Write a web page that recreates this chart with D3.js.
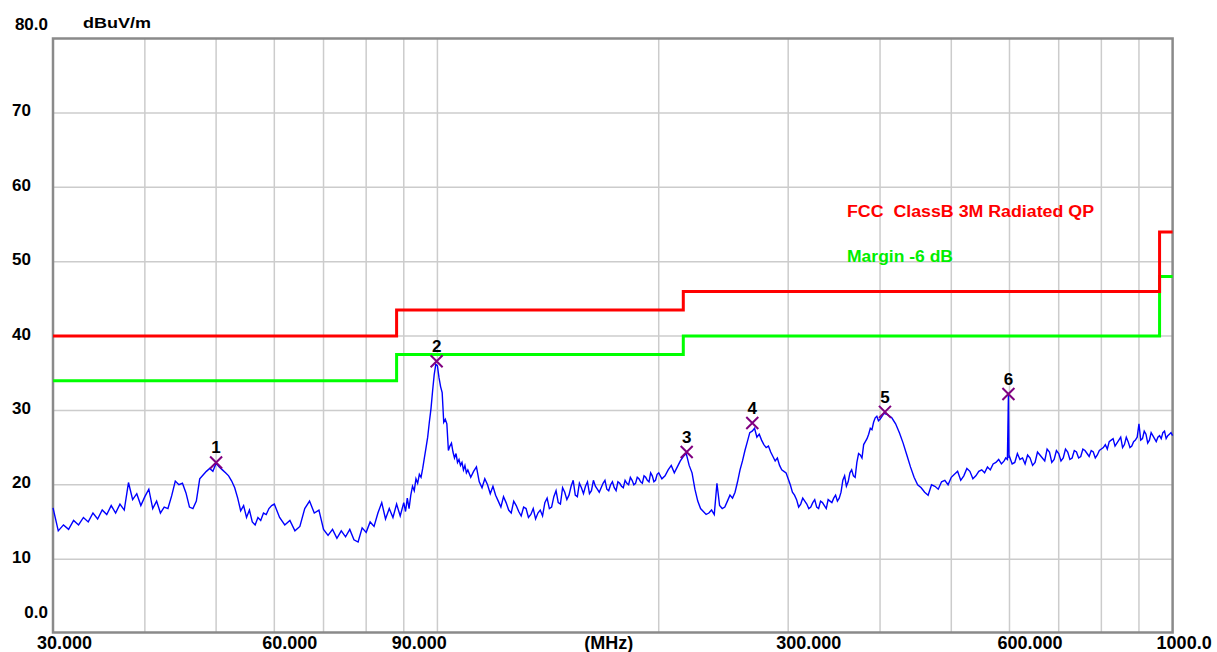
<!DOCTYPE html>
<html>
<head>
<meta charset="utf-8">
<script src="https://cdn.jsdelivr.net/npm/d3@7"></script>
<style>
  body { margin: 0; background: #fff; }
  svg { display: block; }
  text { font-family: "Liberation Sans", Arial, sans-serif; font-weight: bold; }
</style>
</head>
<body>
<svg id="chart"></svg>
<script>
// scan trace: [MHz, dBuV/m]
var trace = [
  [30,16.9],[30.5,13.8],[31,14.6],[31.5,14.0],[32,15.2],[32.5,14.6],[33,15.6],[33.5,15.0],[34,16.2],[34.5,15.4],
  [35,16.6],[35.5,16.0],[36,17.2],[36.5,16.2],[37,17.4],[37.5,16.6],[38,20.3],[38.5,18.0],[39,18.8],[39.5,17.2],
  [40,18.4],[40.5,19.4],[41,16.8],[41.5,17.8],[42,16.2],[42.5,17.0],[43,16.8],[43.5,18.5],[44,20.5],[44.5,20.0],
  [45,20.2],[45.5,18.9],[46,17.0],[46.5,16.8],[47,17.8],[47.5,20.8],[48,21.3],[48.5,21.8],[49,22.2],[49.5,21.8],
  [50,22.9],[50.5,22.4],[51,22.0],[51.5,21.6],[52,21.2],[52.5,20.5],[53,19.6],[53.5,18.2],[54,16.5],[54.5,17.2],
  [55,15.6],[55.5,16.6],[56,15.0],[56.5,14.6],[57,15.6],[57.5,15.2],[58,16.2],[58.5,16.0],[59,16.8],[59.5,17.2],
  [60,17.4],[61,15.6],[62,14.6],[63,15.2],[64,13.8],[65,14.4],[66,16.8],[67,17.8],[68,16.2],[69,16.6],
  [70,14.0],[71,13.2],[72,14.0],[73,12.8],[74,13.8],[75,13.0],[76,14.0],[77,12.6],[78,12.3],[79,14.2],
  [80,13.6],[81,15.0],[82,14.4],[83,16.2],[84,17.6],[85,15.4],[86,16.8],[87,15.6],[88,17.4],[89,15.8],
  [90,17.6],[90.5,16.4],[91,18.2],[91.5,16.8],[92,18.6],[92.5,19.8],[93,19.2],[93.5,20.8],[94,20.2],[94.5,21.4],
  [95,21.0],[95.5,22.2],[96,23.6],[96.5,25.0],[97,26.4],[97.5,28.4],[98,30.2],[98.5,32.6],[99,34.8],[99.5,36.2],
  [100,36.0],[100.5,34.4],[101,33.2],[101.5,32.4],[102,28.4],[102.5,28.8],[103,28.2],[103.5,24.6],[104,25.2],[104.5,25.6],
  [105,24.4],[105.5,23.6],[106,24.2],[106.5,23.0],[107,23.4],[107.5,22.6],[108,23.0],[108.5,22.0],[109,22.6],[109.5,21.6],
  [110,22.0],[111,21.0],[112,21.8],[113,22.4],[114,20.4],[115,19.6],[116,20.8],[117,20.0],[118,18.8],[119,19.8],
  [120,18.6],[121,17.8],[122,17.0],[123,18.4],[124,17.6],[125,16.6],[126,16.2],[127,17.8],[128,17.2],[129,16.4],
  [130,15.8],[131,17.0],[132,16.8],[133,15.6],[134,16.0],[135,16.8],[136,15.4],[137,16.2],[138,16.6],[139,15.8],
  [140,17.6],[141,18.2],[142,16.8],[143,17.0],[144,18.4],[145,19.2],[146,17.6],[147,17.4],[148,19.6],[149,19.0],
  [150,18.0],[151,18.6],[152,19.8],[153,20.6],[154,18.6],[155,18.4],[156,20.2],[157,19.6],[158,18.8],[159,19.8],
  [160,20.4],[161,18.8],[162,19.2],[163,20.6],[164,19.8],[165,19.4],[166,19.0],[167,19.6],[168,20.2],[169,20.6],
  [170,19.4],[171,19.2],[172,20.0],[173,20.4],[174,19.6],[175,19.2],[176,20.4],[177,20.2],[178,19.8],[179,19.6],
  [180,20.6],[181,20.2],[182,20.0],[183,21.0],[184,20.6],[185,20.0],[186,20.2],[187,21.0],[188,20.8],[189,20.4],
  [190,20.2],[191,21.2],[192,21.0],[193,20.6],[194,20.4],[195,21.6],[196,21.2],[197,20.4],[198,20.6],[199,21.4],
  [200,21.6],[202,20.8],[204,21.2],[206,22.0],[208,22.6],[210,21.6],[212,22.4],[214,23.2],[216,23.8],[218,24.2],
  [220,22.6],[222,21.6],[224,19.4],[226,17.8],[228,16.8],[230,16.4],[232,16.0],[234,16.2],[236,16.6],[238,16.0],
  [240,20.2],[242,17.2],[244,16.8],[246,17.0],[248,17.8],[250,18.6],[252,18.2],[254,19.0],[256,20.4],[258,22.0],
  [260,23.2],[262,24.6],[264,25.8],[266,27.0],[268,27.2],[270,27.6],[272,26.4],[274,26.8],[276,26.0],[278,25.4],
  [280,25.0],[282,25.2],[284,24.4],[286,23.8],[288,23.2],[290,23.6],[292,22.6],[294,22.0],[296,21.8],[298,21.6],
  [300,20.8],[302,20.0],[304,19.0],[306,18.6],[308,18.0],[310,17.0],[312,17.4],[314,18.2],[316,17.8],[318,17.4],
  [320,16.8],[322,17.0],[324,17.6],[326,18.0],[328,17.0],[330,16.8],[332,17.8],[334,17.6],[336,17.2],[338,16.8],
  [340,18.0],[342,17.8],[344,17.6],[346,18.2],[348,18.6],[350,17.8],[352,18.2],[354,19.0],[356,20.6],[358,21.2],
  [360,19.8],[362,20.4],[364,21.6],[366,22.0],[368,21.2],[370,21.0],[372,23.0],[374,24.2],[376,24.0],[378,23.6],
  [380,25.4],[382,25.8],[384,26.2],[386,26.8],[388,27.6],[390,27.4],[392,28.4],[394,29.0],[396,29.2],[398,28.6],
  [400,28.8],[405,29.6],[410,29.4],[415,29.0],[420,28.2],[425,27.0],[430,25.6],[435,24.0],[440,22.4],[445,21.0],
  [450,20.0],[455,19.6],[460,19.0],[465,18.6],[470,20.0],[475,19.8],[480,19.4],[485,20.4],[490,20.6],[495,20.0],
  [500,21.0],[505,21.4],[510,21.8],[515,20.6],[520,21.2],[525,22.2],[530,21.8],[535,20.8],[540,21.2],[545,21.8],
  [550,22.0],[555,21.6],[560,22.4],[565,22.0],[570,22.8],[575,23.0],[580,23.4],[585,22.8],[590,23.2],[593,23.6],
  [596,23.4],[597,27.6],[598,32.2],[599,23.6],[600,23.8],[605,22.8],[610,23.0],[615,24.2],[620,23.4],[625,23.6],
  [630,22.8],[635,24.0],[640,23.6],[645,22.6],[650,23.0],[655,24.4],[660,24.0],[665,23.6],[670,23.2],[675,24.8],
  [680,24.4],[685,23.0],[690,23.4],[695,24.6],[700,24.2],[705,23.2],[710,23.6],[715,24.8],[720,24.4],[725,23.4],
  [730,23.6],[735,24.6],[740,24.4],[745,23.6],[750,23.8],[755,24.8],[760,24.6],[765,24.2],[770,23.8],[775,24.6],
  [780,24.4],[785,23.6],[790,24.0],[795,24.6],[800,24.8],[805,25.0],[810,25.4],[815,24.8],[820,25.8],[825,26.0],
  [830,26.2],[835,25.2],[840,25.6],[845,26.0],[850,26.4],[855,25.0],[860,25.4],[865,26.4],[870,25.8],[875,25.0],
  [880,25.2],[885,25.8],[890,26.0],[895,26.4],[900,28.2],[905,26.0],[910,26.2],[915,27.2],[920,26.8],[925,25.6],
  [930,26.0],[935,27.0],[940,26.6],[945,26.2],[950,25.8],[955,26.4],[960,26.6],[965,26.2],[970,27.0],[975,27.2],
  [980,26.2],[985,26.6],[990,26.8],[995,27.0],[1000,26.6]
];

// FCC class B 3m QP limit and -6 dB margin (step after each frequency)
var limitFreqs = [30, 88, 216, 960, 1000];
var limitLevels = [40, 43.5, 46, 54, 54];
var marginLevels = [34, 37.5, 40, 48, 48];

// peak markers
var markerFreqs = [50.0, 99.75, 218.3, 268.1, 406.2, 598];
var markerLevels = [23.0, 36.6, 24.4, 28.3, 29.8, 32.2];
var markerNames = ["1", "2", "3", "4", "5", "6"];

// axes
var gridFreqs = [40, 50, 60, 70, 80, 90, 100, 200, 300, 400, 500, 600, 700, 800, 900];
var gridLevels = [10, 20, 30, 40, 50, 60, 70];
var xLabelFreqs = [30, 60, 90, 300, 600, 1000];
var xLabelTexts = ["30.000", "60.000", "90.000", "300.000", "600.000", "1000.0"];
var yLabelLevels = [0, 10, 20, 30, 40, 50, 60, 70, 80];
var yLabelTexts = ["0.0", "10", "20", "30", "40", "50", "60", "70", "80.0"];

var width = 1217;
var height = 652;
var plotLeft = 53, plotRight = 1172.6, plotTop = 38.5, plotBottom = 633.5;

var svg = d3.select("#chart")
    .attr("width", width)
    .attr("height", height);

var x = d3.scaleLog().domain([30, 1000]).range([plotLeft, plotRight]);
var y = d3.scaleLinear().domain([0, 80]).range([plotBottom, plotTop]);

// grid
svg.selectAll(".vgrid")
    .data(gridFreqs)
    .enter().append("line")
    .attr("x1", function(d) { return x(d); })
    .attr("x2", function(d) { return x(d); })
    .attr("y1", plotTop)
    .attr("y2", plotBottom - 1)
    .attr("stroke", "#cccccc")
    .attr("stroke-width", 1.5);

svg.selectAll(".hgrid")
    .data(gridLevels)
    .enter().append("line")
    .attr("x1", plotLeft)
    .attr("x2", plotRight)
    .attr("y1", function(d) { return y(d); })
    .attr("y2", function(d) { return y(d); })
    .attr("stroke", "#cccccc")
    .attr("stroke-width", 1.5);

// frame
svg.append("rect")
    .attr("x", plotLeft)
    .attr("y", plotTop)
    .attr("width", plotRight - plotLeft)
    .attr("height", plotBottom - 1 - plotTop)
    .attr("fill", "none")
    .attr("stroke", "#8a8a8a")
    .attr("stroke-width", 2.5);

// y labels
svg.selectAll(".ylab")
    .data(yLabelLevels)
    .enter().append("text")
    .attr("x", function(d) { return (d == 0 || d == 80) ? 48 : 12; })
    .attr("y", function(d) {
        if (d == 80) return y(d) - 14;
        if (d == 0) return y(d) - 21;
        return y(d) - 2;
    })
    .attr("text-anchor", function(d) { return (d == 0 || d == 80) ? "end" : "start"; })
    .attr("dominant-baseline", "central")
    .attr("font-size", 17)
    .attr("fill", "#000")
    .text(function(d, i) { return yLabelTexts[i]; });

svg.append("text")
    .attr("x", 83)
    .attr("y", 22)
    .attr("dominant-baseline", "central")
    .attr("font-size", 15)
    .attr("textLength", 68)
    .attr("lengthAdjust", "spacingAndGlyphs")
    .attr("fill", "#000")
    .text("dBuV/m");

// x labels
svg.selectAll(".xlab")
    .data(xLabelFreqs)
    .enter().append("text")
    .attr("x", function(d) { return (d == 30 || d == 1000) ? x(d) - 16 : x(d) - 12; })
    .attr("y", 643)
    .attr("dominant-baseline", "central")
    .attr("font-size", 18)
    .attr("fill", "#000")
    .text(function(d, i) { return xLabelTexts[i]; });

svg.append("text")
    .attr("x", (plotLeft + plotRight) / 2 - 4)
    .attr("y", 643)
    .attr("text-anchor", "middle")
    .attr("dominant-baseline", "central")
    .attr("font-size", 18)
    .attr("fill", "#000")
    .text("(MHz)");

// limit lines
var stepLine = d3.line()
    .x(function(d) { return x(d[0]); })
    .y(function(d) { return y(d[1]); })
    .curve(d3.curveStepAfter);

var limitData = limitFreqs.map(function(f, i) { return [f, limitLevels[i]]; });
var marginData = limitFreqs.map(function(f, i) { return [f, marginLevels[i]]; });

svg.append("path")
    .attr("d", stepLine(marginData))
    .attr("fill", "none")
    .attr("stroke", "#00ff00")
    .attr("stroke-width", 3);

svg.append("path")
    .attr("d", stepLine(limitData))
    .attr("fill", "none")
    .attr("stroke", "#ff0000")
    .attr("stroke-width", 3);

// trace
var traceLine = d3.line()
    .x(function(d) { return x(d[0]); })
    .y(function(d) { return y(d[1]); });

svg.append("path")
    .attr("d", traceLine(trace))
    .attr("fill", "none")
    .attr("stroke", "#0000ff")
    .attr("stroke-width", 1.4);

// legend
svg.append("text")
    .attr("x", 847)
    .attr("y", 211)
    .attr("dominant-baseline", "central")
    .attr("font-size", 16)
    .attr("textLength", 247)
    .attr("lengthAdjust", "spacingAndGlyphs")
    .attr("fill", "#ff0000")
    .attr("xml:space", "preserve")
    .text("FCC  ClassB 3M Radiated QP");

svg.append("text")
    .attr("x", 847)
    .attr("y", 256.5)
    .attr("dominant-baseline", "central")
    .attr("font-size", 16)
    .attr("textLength", 106)
    .attr("lengthAdjust", "spacingAndGlyphs")
    .attr("fill", "#00ee00")
    .text("Margin -6 dB");

// markers
var markers = svg.selectAll(".marker")
    .data(markerFreqs)
    .enter().append("g")
    .attr("transform", function(d, i) {
        return "translate(" + x(d) + "," + y(markerLevels[i]) + ")";
    });

markers.append("path")
    .attr("d", "M-6,-6L6,6M6,-6L-6,6")
    .attr("stroke", "#800080")
    .attr("stroke-width", 2);

markers.append("text")
    .attr("y", -9)
    .attr("text-anchor", "middle")
    .attr("font-size", 17)
    .attr("fill", "#000")
    .text(function(d, i) { return markerNames[i]; });
</script>
</body>
</html>
